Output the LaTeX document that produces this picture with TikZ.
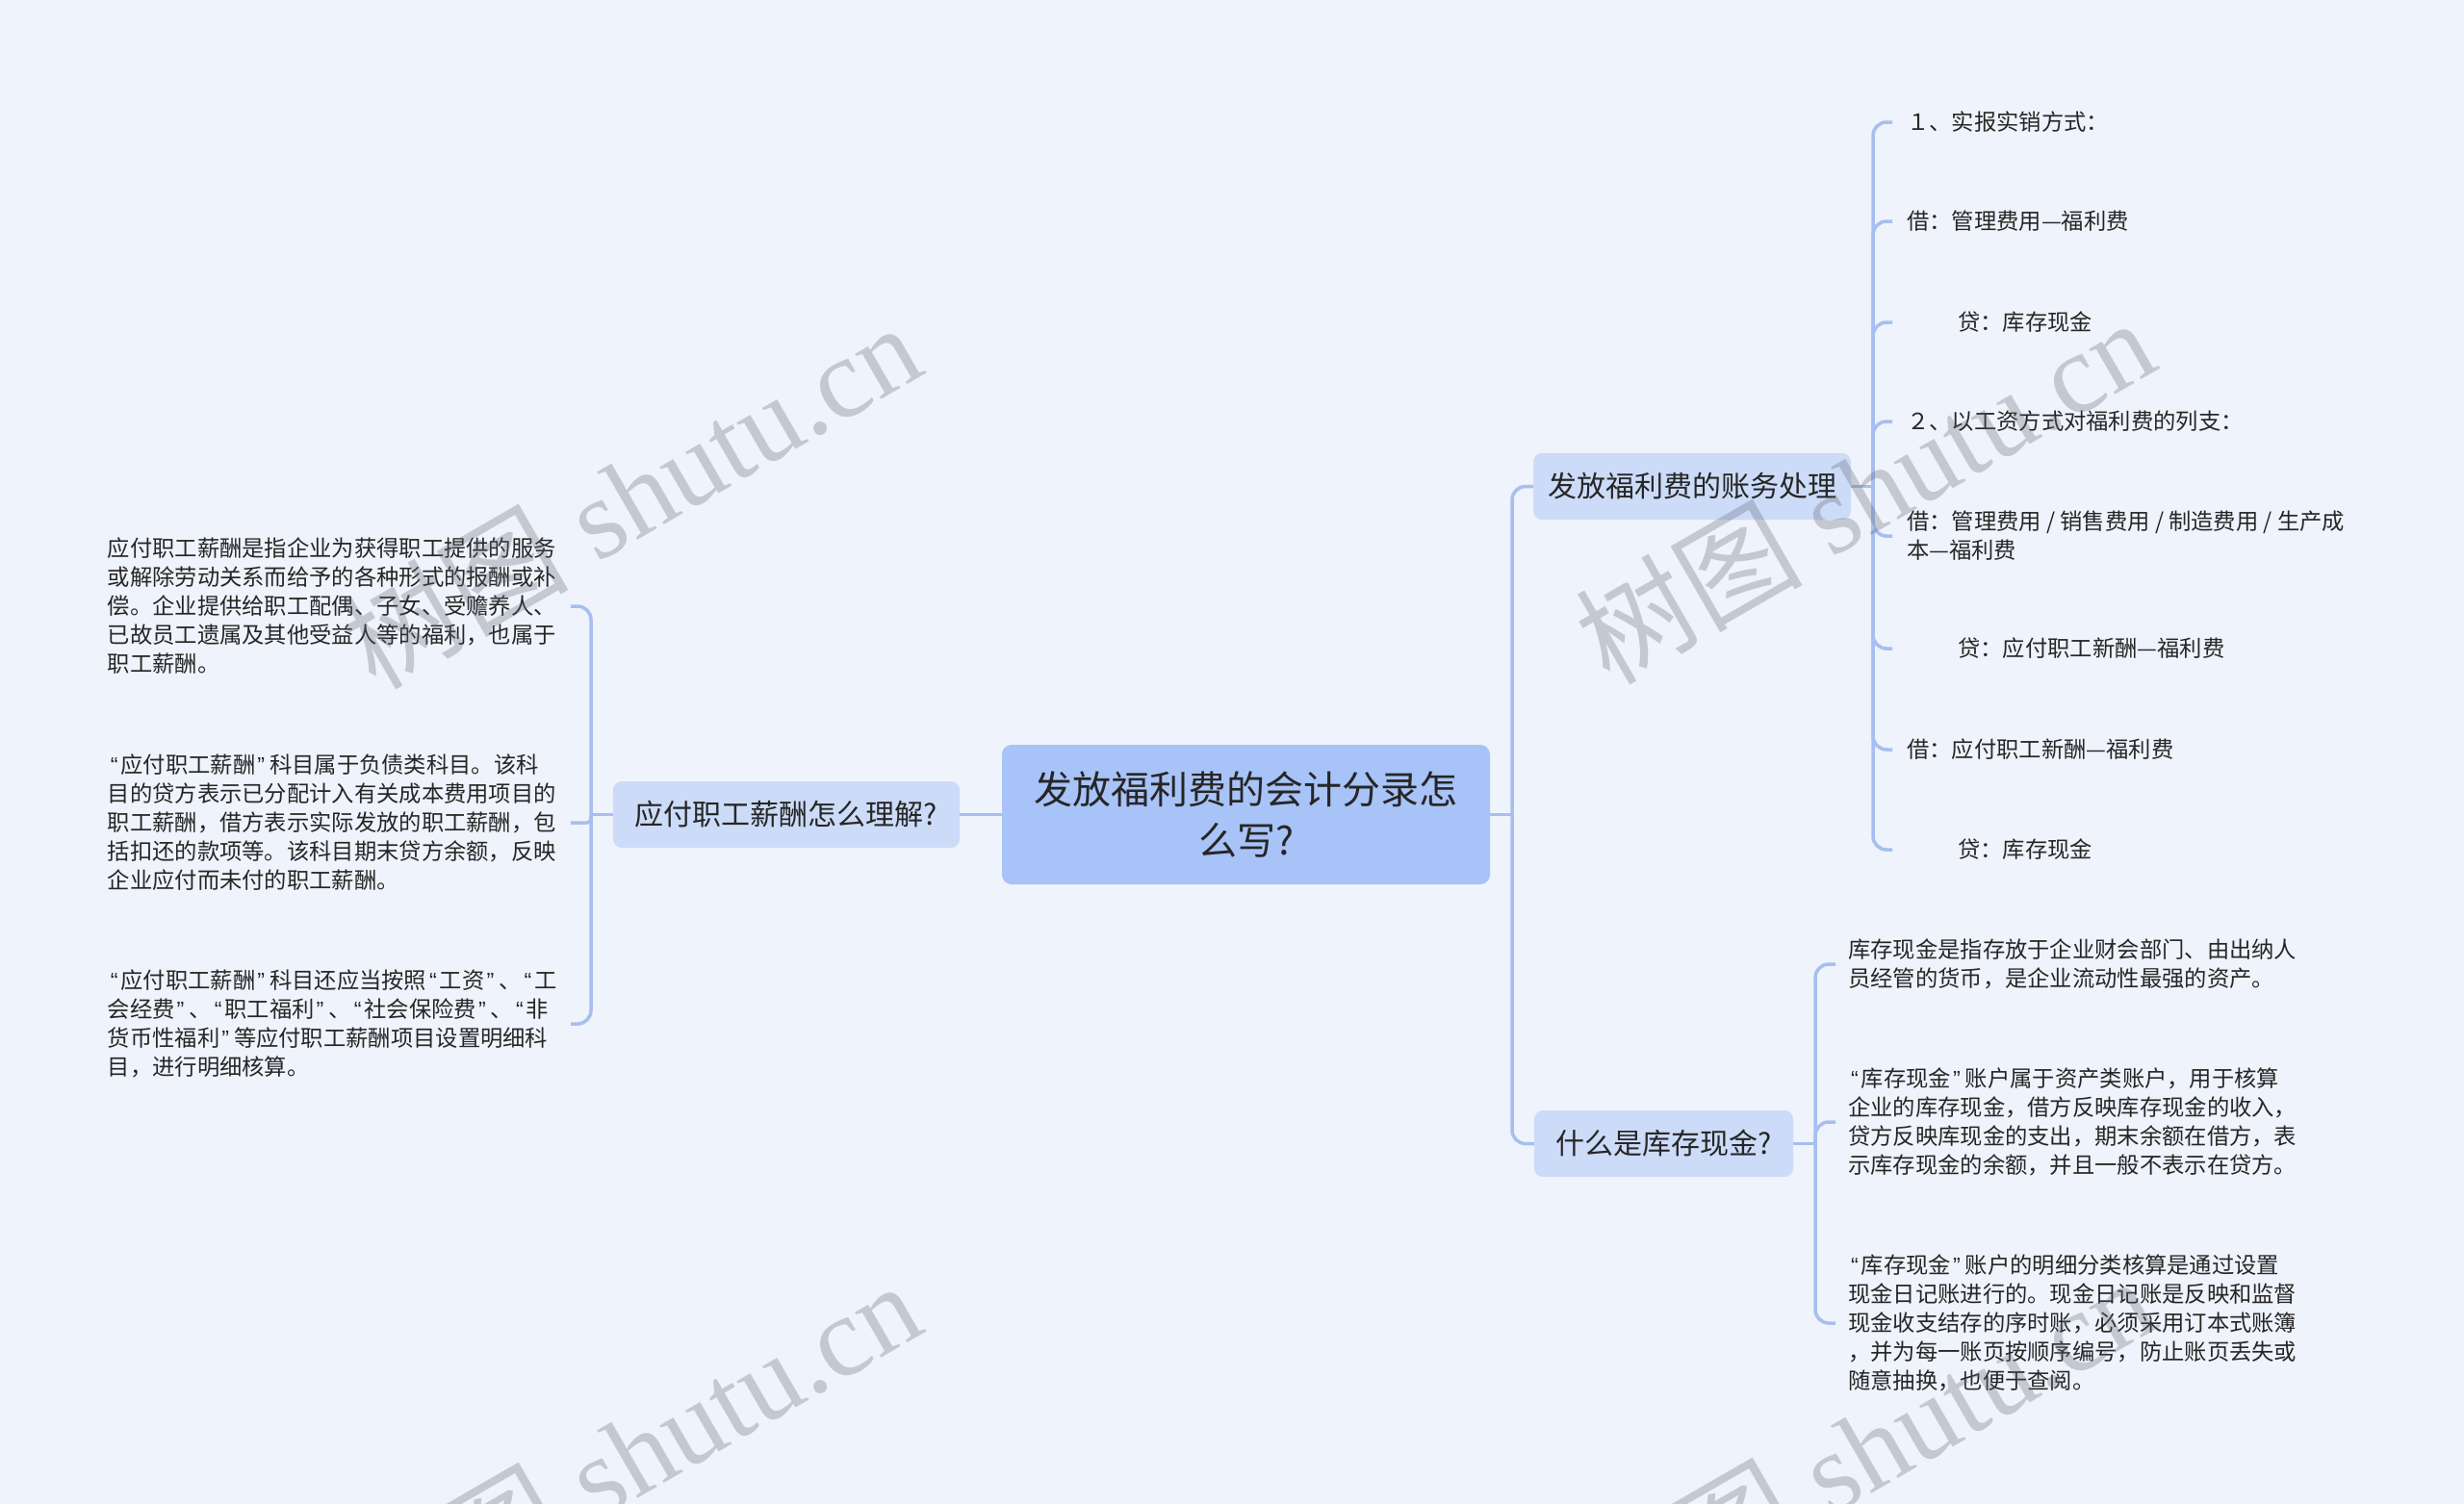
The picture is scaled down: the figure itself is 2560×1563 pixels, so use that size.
\documentclass[tikz,border=0pt]{standalone}
\usepackage{fontspec}
\setmainfont{Noto Sans CJK SC}
\newfontfamily\latinfont{Liberation Sans}
\newfontfamily\wmlatin{Liberation Serif}
\newfontfamily\wmcjk{Noto Sans CJK SC}
\definecolor{bgc}{HTML}{EFF3FB}
\definecolor{rootc}{HTML}{A8C3F8}
\definecolor{subc}{HTML}{CCDBF8}
\definecolor{linec}{HTML}{A6BFF0}
\definecolor{textc}{HTML}{262626}
\definecolor{wmc}{HTML}{5F6570}
\newcommand\myoq{\kern3pt{\latinfont “}\kern3pt}
\newcommand\mycq{\kern2pt{\latinfont ”}\kern5pt}
\begin{document}
\begin{tikzpicture}[x=1pt,y=-1pt,
  conn/.style={draw=linec, line width=3.5pt},
  elbow/.style={conn, rounded corners=14pt},
  rootbox/.style={fill=rootc, rounded corners=10pt, minimum width=507pt, minimum height=145pt,
    inner sep=0pt, align=center, text=textc, font=\fontsize{40}{53}\selectfont},
  subbox/.style={fill=subc, rounded corners=9pt, minimum height=69pt, inner sep=0pt,
    text=textc, font=\fontsize{30}{36}\selectfont},
  leaf/.style={text=textc, align=left, inner ysep=2pt, font=\fontsize{23.3}{30}\selectfont},
  lleaf/.style={leaf, anchor=east, inner xsep=13pt, text width=468pt},
  tleaf/.style={leaf, anchor=west, inner xsep=15pt},
  rleaf/.style={leaf, anchor=west, inner xsep=13pt},
  wm/.style={text=wmc, text opacity=0.3, rotate=30, inner sep=0pt, font=\wmlatin\fontsize{118}{118}\selectfont}
]
\fill[bgc] (0,0) rectangle (2560,1563);
\useasboundingbox (0,0) rectangle (2560,1563);

% main nodes
\node[rootbox] (root) at (1294.5,846.5) {发放福利费的会计分录怎\\么写?};
\node[subbox, minimum width=360pt] (ls) at (817,846.5) {应付职工薪酬怎么理解?};
\node[subbox, minimum width=330pt] (rs1) at (1758,505.5) {发放福利费的账务处理};
\node[subbox, minimum width=269pt] (rs2) at (1728.5,1188.5) {什么是库存现金?};

% left leaves
\node[lleaf] (L1) at (593,630) {应付职工薪酬是指企业为获得职工提供的服务\\或解除劳动关系而给予的各种形式的报酬或补\\偿。企业提供给职工配偶、子女、受赡养人、\\已故员工遗属及其他受益人等的福利，也属于\\职工薪酬。};
\node[lleaf] (L2) at (593,855) {\myoq 应付职工薪酬\mycq 科目属于负债类科目。该科\\目的贷方表示已分配计入有关成本费用项目的\\职工薪酬，借方表示实际发放的职工薪酬，包\\括扣还的款项等。该科目期末贷方余额，反映\\企业应付而未付的职工薪酬。};
\node[lleaf] (L3) at (593,1064) {\myoq 应付职工薪酬\mycq 科目还应当按照\myoq 工资\mycq 、\myoq 工\\会经费\mycq 、\myoq 职工福利\mycq 、\myoq 社会保险费\mycq 、\myoq 非\\货币性福利\mycq 等应付职工薪酬项目设置明细科\\目，进行明细核算。};

% right top leaves
\node[tleaf] (T1) at (1966,127) {１、实报实销方式：};
\node[tleaf] (T2) at (1966,230) {借：管理费用—福利费};
\node[tleaf] (T3) at (1966,335) {\hspace*{53pt}贷：库存现金};
\node[tleaf] (T4) at (1966,438) {２、以工资方式对福利费的列支：};
\node[tleaf] (T5) at (1966,557) {借：管理费用 / 销售费用 / 制造费用 / 生产成\\本—福利费};
\node[tleaf] (T6) at (1966,674) {\hspace*{53pt}贷：应付职工新酬—福利费};
\node[tleaf] (T7) at (1966,779) {借：应付职工新酬—福利费};
\node[tleaf] (T8) at (1966,883) {\hspace*{53pt}贷：库存现金};

% right bottom leaves
\node[rleaf] (R1) at (1907,1002) {库存现金是指存放于企业财会部门、由出纳人\\员经管的货币，是企业流动性最强的资产。};
\node[rleaf] (R2) at (1907,1166) {\myoq 库存现金\mycq 账户属于资产类账户，用于核算\\企业的库存现金，借方反映库存现金的收入，\\贷方反映库现金的支出，期末余额在借方，表\\示库存现金的余额，并且一般不表示在贷方。};
\node[rleaf] (R3) at (1907,1375) {\myoq 库存现金\mycq 账户的明细分类核算是通过设置\\现金日记账进行的。现金日记账是反映和监督\\现金收支结存的序时账，必须采用订本式账簿\\，并为每一账页按顺序编号，防止账页丢失或\\随意抽换，也便于查阅。};

% junctions
\coordinate (jC) at (1571,846.5);
\coordinate (jL) at (614,846.5);
\coordinate (jR1) at (1946,505.5);
\coordinate (jR2) at (1886,1188.5);

% connectors
\draw[conn] (root.west) -- (ls.east);
\draw[conn] (root.east) -- (jC);
\draw[elbow] (jC) |- (rs1.west);
\draw[elbow] (jC) |- (rs2.west);

\draw[conn] (ls.west) -- (jL);
\draw[elbow] (jL) |- (L1.east);
\draw[conn, rounded corners=4pt] (jL) |- (L2.east);
\draw[elbow] (jL) |- (L3.east);

\draw[conn] (rs1.east) -- (jR1);
\foreach \t in {T1,T2,T3,T4,T5,T6,T7,T8} {
  \draw[elbow] (jR1) |- (\t.west);
}

\draw[conn] (rs2.east) -- (jR2);
\foreach \t in {R1,R2,R3} {
  \draw[elbow] (jR2) |- (\t.west);
}

% watermarks
\node[wm] (wm1) at (655,514) {{\wmcjk 树图} shutu.cn};
\node[wm] (wm2) at (1937,509) {{\wmcjk 树图} shutu.cn};
\node[wm] (wm3) at (655,1510) {{\wmcjk 树图} shutu.cn};
\node[wm] (wm4) at (1937,1505) {{\wmcjk 树图} shutu.cn};
\end{tikzpicture}
\end{document}
